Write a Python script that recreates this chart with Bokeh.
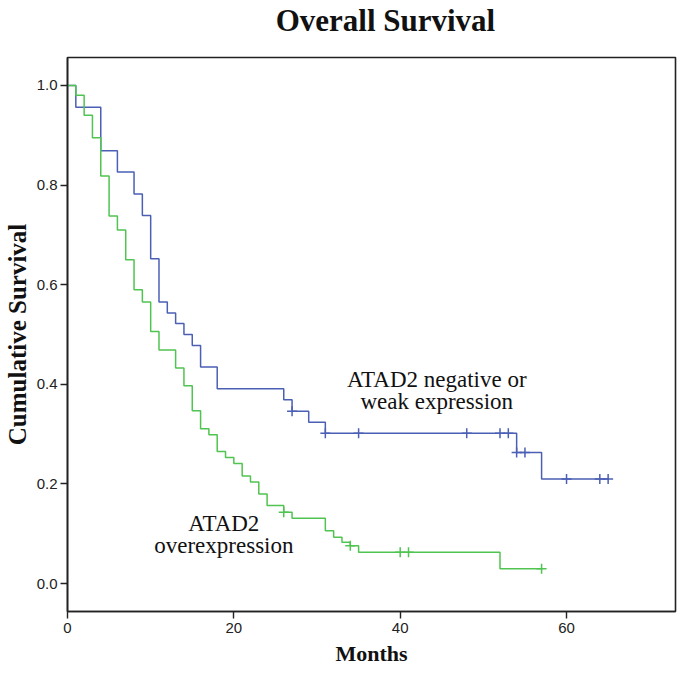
import bisect
from bokeh.plotting import figure
from bokeh.layouts import column
from bokeh.models import Range1d, Label, FixedTicker, PrintfTickFormatter
from bokeh.embed import file_html
from bokeh.resources import INLINE

# ---- data ----
blue_times = [0, 1, 4, 6, 8, 9, 10, 11, 12, 13, 14, 15, 16, 18, 26, 27, 29, 31, 54, 57, 65]
blue_surv = [1.0, 0.956, 0.869, 0.826, 0.782, 0.739, 0.652, 0.565, 0.543, 0.522, 0.500,
             0.478, 0.435, 0.391, 0.369, 0.346, 0.324, 0.302, 0.263, 0.210, 0.210]
blue_censor = [27, 31, 35, 48, 52, 53, 54, 55, 60, 64, 65]

green_times = [0, 1, 2, 3, 4, 5, 6, 7, 8, 9, 10, 11, 13, 14, 15, 16, 17, 18, 19, 20, 21, 22,
               23, 24, 26, 27, 31, 32, 33, 34, 35, 52, 57]
green_surv = [1.0, 0.98, 0.94, 0.895, 0.818, 0.738, 0.71, 0.65, 0.59, 0.565, 0.506, 0.469,
              0.433, 0.397, 0.347, 0.311, 0.299, 0.265, 0.253, 0.241, 0.216, 0.204, 0.18,
              0.157, 0.143, 0.131, 0.106, 0.093, 0.083, 0.076, 0.063, 0.030, 0.030]
green_censor = [26, 34, 40, 41, 57]

x_ticks = [0, 20, 40, 60]
y_ticks = [0.0, 0.2, 0.4, 0.6, 0.8, 1.0]

title_text = "Overall Survival"
x_label = "Months"
y_label = "Cumulative Survival"
blue_label = ["ATAD2 negative or", "weak expression"]
green_label = ["ATAD2", "overexpression"]

BLUE = "#4b5fb5"
GREEN = "#50c450"
SERIF = "Liberation Serif"
W = 677
TITLE_H = 45
MAIN_H = 624


def level_at(times, surv, t):
    i = bisect.bisect_right(times, t) - 1
    return surv[i]


# ---- title strip (its own small figure, so the title can sit high) ----
t = figure(width=W, height=TITLE_H, output_backend="svg", toolbar_location=None,
           x_range=Range1d(0, W), y_range=Range1d(0, TITLE_H),
           x_axis_location=None, y_axis_location=None,
           min_border=0, min_border_left=0, min_border_right=0,
           min_border_top=0, min_border_bottom=0,
           outline_line_color=None, background_fill_color="white", border_fill_color="white")
t.grid.visible = False
t.add_layout(Label(x=354, y=25, text=title_text, text_align="center", text_baseline="middle",
                   text_font=SERIF, text_font_style="bold", text_font_size="31px",
                   text_color="#111111"))

# ---- main chart ----
p = figure(width=W, height=MAIN_H, output_backend="svg", toolbar_location=None,
           x_range=Range1d(0, 73.1), y_range=Range1d(-0.056, 1.056),
           min_border_left=67, min_border_right=2, min_border_top=12, min_border_bottom=58,
           background_fill_color="white", border_fill_color="white")

p.grid.visible = False
p.outline_line_color = "#222222"
p.outline_line_width = 1.6

for ax in (p.xaxis, p.yaxis):
    ax.axis_line_color = "#222222"
    ax.axis_line_width = 1.6
    ax.major_tick_line_color = "#222222"
    ax.major_tick_line_width = 1.4
    ax.major_tick_in = 0
    ax.major_tick_out = 7
    ax.minor_tick_line_color = None
    ax.major_label_text_font = "Liberation Sans"
    ax.major_label_text_font_size = "15px"
    ax.major_label_text_color = "#222222"
    ax.axis_label_text_font = SERIF
    ax.axis_label_text_font_style = "bold"
    ax.axis_label_text_color = "#111111"

p.yaxis.axis_label_text_font_size = "25px"
p.xaxis.axis_label_text_font_size = "22px"
p.xaxis.ticker = FixedTicker(ticks=x_ticks)
p.yaxis.ticker = FixedTicker(ticks=y_ticks)
p.yaxis.formatter = PrintfTickFormatter(format="%.1f")
p.yaxis.axis_label = y_label
p.xaxis.axis_label = x_label
p.xaxis.major_label_standoff = 4
p.yaxis.major_label_standoff = 3
p.yaxis.axis_label_standoff = 3
p.xaxis.axis_label_standoff = 5

p.step(blue_times, blue_surv, mode="after", line_color=BLUE, line_width=1.5)
p.step(green_times, green_surv, mode="after", line_color=GREEN, line_width=1.5)

p.scatter(blue_censor, [level_at(blue_times, blue_surv, tt) for tt in blue_censor],
          marker="cross", size=10, line_color=BLUE, line_width=1.5)
p.scatter(green_censor, [level_at(green_times, green_surv, tt) for tt in green_censor],
          marker="cross", size=10, line_color=GREEN, line_width=1.5)

for txt, yy in zip(blue_label, [0.410, 0.366]):
    p.add_layout(Label(x=44.4, y=yy, text=txt, text_align="center", text_baseline="middle",
                       text_font=SERIF, text_font_size="23px", text_color="#111111"))
for txt, yy in zip(green_label, [0.120, 0.076]):
    p.add_layout(Label(x=18.8, y=yy, text=txt, text_align="center", text_baseline="middle",
                       text_font=SERIF, text_font_size="23px", text_color="#111111"))

layout = column(t, p, spacing=0)
open("out.html", "w").write(file_html(layout, INLINE))
